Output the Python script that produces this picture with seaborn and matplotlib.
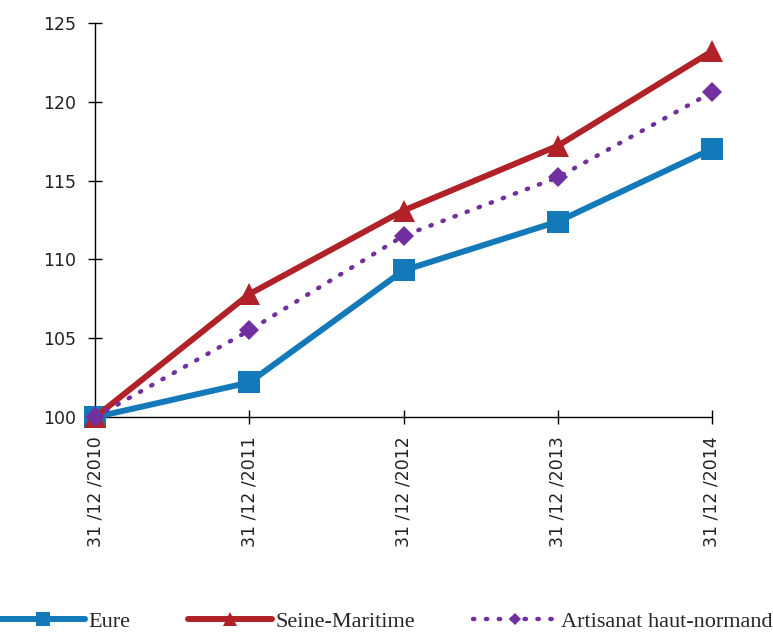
import matplotlib.pyplot as plt
import numpy as np
import pandas as pd
import seaborn as sns
from matplotlib.lines import Line2D

dates = ["31/12/2010", "31/12/2011", "31/12/2012", "31/12/2013", "31/12/2014"]
eure = [100, 102.2, 109.3, 112.4, 117.0]
seine_maritime = [100, 107.8, 113.1, 117.2, 123.2]
artisanat = [100, 105.5, 111.5, 115.2, 120.6]

sns.set_style("white")
plt.rcParams["font.family"] = ["DejaVu Sans"]

df = pd.DataFrame({
    "pos": list(range(len(dates))) * 3,
    "value": eure + seine_maritime + artisanat,
    "serie": ["Eure"] * 5 + ["Seine-Maritime"] * 5 + ["Artisanat haut-normand"] * 5,
})

styles = {
    "Eure": dict(color="#1479B8", marker="s", markersize=16, lw=4.3, ls="-"),
    "Seine-Maritime": dict(color="#B02128", marker="^", markersize=16, lw=4.3, ls="-"),
    "Artisanat haut-normand": dict(color="#7030A0", marker="D", markersize=10, lw=3.2, ls=(0, (0.3, 2.6))),
}

fig = plt.figure(figsize=(7.73, 6.34), dpi=100)
ax = fig.add_axes([0.123, 0.342, 0.798, 0.622])

for name, st in styles.items():
    sub = df[df["serie"] == name]
    sns.lineplot(data=sub, x="pos", y="value", ax=ax, color=st["color"], marker=st["marker"],
                 markersize=st["markersize"], linewidth=st["lw"], linestyle=st["ls"],
                 markeredgewidth=0, clip_on=False, zorder=3)
    ax.lines[-1].set_dash_capstyle("round")

ax.set_xlim(0, 4)
ax.set_ylim(100, 125)
ax.set_yticks(np.arange(100, 126, 5))
ax.set_xticks(range(len(dates)))
ax.set_xticklabels([d.replace("/", " /") for d in dates], rotation=90)
ax.set_xlabel("")
ax.set_ylabel("")
for side in ["top", "right"]:
    ax.spines[side].set_visible(False)
for side in ["left", "bottom"]:
    ax.spines[side].set_color("black")
    ax.spines[side].set_linewidth(1)
ax.tick_params(axis="both", direction="inout", length=10, width=1, colors="black",
               labelcolor="#222222", labelsize=12.5, bottom=True, left=True)
ax.tick_params(axis="x", pad=9)
ax.tick_params(axis="y", pad=9)

# legend handles: line with a smaller marker
handles = []
for name, st in styles.items():
    handles.append(Line2D([0], [0], color=st["color"], marker=st["marker"], lw=st["lw"], linestyle=st["ls"],
                          markersize=st["markersize"] * 0.65, markeredgewidth=0, dash_capstyle="round",
                          label=name))
fig.legend(handles=handles, loc="lower center", bbox_to_anchor=(0.5, -0.028), ncol=3, frameon=False,
           prop={"family": "Liberation Serif", "size": 16}, handlelength=3.8, columnspacing=2.6,
           handletextpad=0.15)

fig.savefig("out.png", dpi=100)
